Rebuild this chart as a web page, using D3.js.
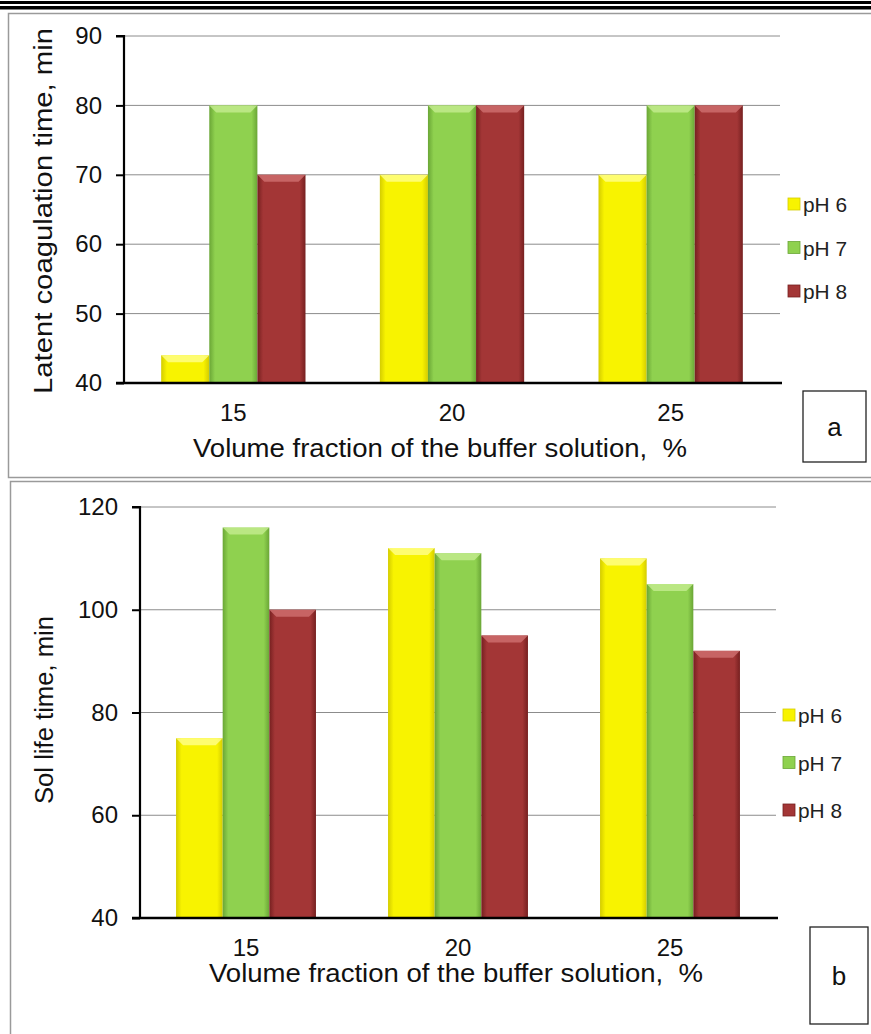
<!DOCTYPE html>
<html>
<head>
<meta charset="utf-8">
<script src="https://cdn.jsdelivr.net/npm/d3@7"></script>
<style>
  html, body { margin: 0; padding: 0; background: #fff; }
  svg { display: block; font-family: "Liberation Sans", Arial, sans-serif; }
</style>
</head>
<body>
<div id="chart"></div>
<script>
const categories = ['15', '20', '25'];
const seriesNames = ['pH 6', 'pH 7', 'pH 8'];

// panel a: latent coagulation time, min
const latentPH6 = [44, 70, 70];
const latentPH7 = [80, 80, 80];
const latentPH8 = [70, 80, 80];
const latentTicks = [40, 50, 60, 70, 80, 90];

// panel b: sol life time, min
const solPH6 = [75, 112, 110];
const solPH7 = [116, 111, 105];
const solPH8 = [100, 95, 92];
const solTicks = [40, 60, 80, 100, 120];

const colors = {
  'pH 6': {base: '#f8f300', light: '#ffff8c', dark: '#d4cc00'},
  'pH 7': {base: '#8fd14f', light: '#c4ec90', dark: '#6aa636'},
  'pH 8': {base: '#a33636', light: '#cf7070', dark: '#762020'}
};

const W = 871, H = 1034;
const FONT = '"Liberation Sans", Arial, sans-serif';
const svg = d3.select('#chart').append('svg')
  .attr('width', W)
  .attr('height', H);

const defs = svg.append('defs');
seriesNames.forEach((s, i) => {
  const c = colors[s];
  const g = defs.append('linearGradient')
    .attr('id', 'bar' + i)
    .attr('x1', 0).attr('x2', 1).attr('y1', 0).attr('y2', 0);
  g.append('stop').attr('offset', '0%').attr('stop-color', c.dark);
  g.append('stop').attr('offset', '12%').attr('stop-color', c.base);
  g.append('stop').attr('offset', '88%').attr('stop-color', c.base);
  g.append('stop').attr('offset', '100%').attr('stop-color', c.dark);
});

// double rule at the top of the page
svg.append('rect').attr('x', 0).attr('y', 1).attr('width', W).attr('height', 3).attr('fill', '#000');
svg.append('rect').attr('x', 0).attr('y', 6).attr('width', W).attr('height', 3.5).attr('fill', '#000');

function drawPanel(p) {
  // outer frame
  svg.append('rect')
    .attr('x', p.frame[0] + 0.5).attr('y', p.frame[1] + 0.5)
    .attr('width', p.frame[2]).attr('height', p.frame[3])
    .attr('fill', 'none').attr('stroke', '#9a9a9a').attr('stroke-width', 1.5);

  const x = d3.scaleBand()
    .domain(categories)
    .range([p.left, p.right])
    .paddingInner(0.34)
    .paddingOuter(0.17);
  const xs = d3.scaleBand()
    .domain(seriesNames)
    .range([0, x.bandwidth()]);
  const y = d3.scaleLinear()
    .domain(d3.extent(p.ticks))
    .range([p.bottom, p.top]);

  const g = svg.append('g');

  // gridlines
  g.append('g').selectAll('line')
    .data(p.ticks.slice(1))
    .join('line')
    .attr('x1', p.left).attr('x2', p.right)
    .attr('y1', d => y(d)).attr('y2', d => y(d))
    .attr('stroke', '#8c8c8c').attr('stroke-width', 1);

  // bars
  const rows = categories.map((c, i) => ({cat: c, vals: p.series.map((s, j) => ({name: seriesNames[j], v: s[i], j}))}));
  const groups = g.selectAll('.grp')
    .data(rows)
    .join('g')
    .attr('transform', d => `translate(${x(d.cat)},0)`);
  const bar = groups.selectAll('g')
    .data(d => d.vals)
    .join('g')
    .attr('transform', d => `translate(${xs(d.name)},0)`);
  bar.append('rect')
    .attr('x', 0).attr('y', d => y(d.v))
    .attr('width', xs.bandwidth())
    .attr('height', d => y(p.ticks[0]) - y(d.v))
    .attr('fill', d => `url(#bar${d.j})`);
  // bevelled top
  bar.append('path')
    .attr('d', d => {
      const w = xs.bandwidth(), t = y(d.v), b = 7;
      return `M0,${t}L${w},${t}L${w - b},${t + b}L${b},${t + b}Z`;
    })
    .attr('fill', d => colors[d.name].light)
    .attr('opacity', 0.8);

  // y axis
  const yAxis = d3.axisLeft(y).tickValues(p.ticks).tickSize(8).tickPadding(14);
  const ya = g.append('g')
    .attr('transform', `translate(${p.left},0)`)
    .call(yAxis);
  ya.select('.domain').attr('stroke', '#000').attr('stroke-width', 2.2)
    .attr('d', `M-8,${p.top}H0V${p.bottom}`);
  ya.selectAll('.tick line').attr('stroke', '#000').attr('stroke-width', 2);
  ya.selectAll('.tick text')
    .attr('font-size', 24).attr('fill', '#111')
    .attr('font-family', FONT);

  // x baseline
  g.append('line')
    .attr('x1', p.left - 8).attr('x2', p.right + 2)
    .attr('y1', p.bottom).attr('y2', p.bottom)
    .attr('stroke', '#000').attr('stroke-width', 2.5);

  // category labels
  g.append('g').selectAll('text')
    .data(categories)
    .join('text')
    .attr('x', d => x(d) + x.bandwidth() / 2)
    .attr('y', p.bottom + 38)
    .attr('text-anchor', 'middle')
    .attr('font-size', 24).attr('fill', '#111')
    .text(d => d);

  // axis titles
  g.append('text')
    .attr('x', p.xTitle[0]).attr('y', p.xTitle[1])
    .attr('text-anchor', 'middle')
    .attr('font-size', 25).attr('fill', '#111')
    .attr('textLength', p.xTitle[2]).attr('lengthAdjust', 'spacingAndGlyphs')
    .attr('xml:space', 'preserve')
    .text('Volume fraction of the buffer solution,  %');
  g.append('text')
    .attr('transform', `translate(${p.yTitle[0]},${p.yTitle[1]}) rotate(-90)`)
    .attr('text-anchor', 'middle')
    .attr('font-size', 26).attr('fill', '#111')
    .attr('textLength', p.yTitle[2]).attr('lengthAdjust', 'spacingAndGlyphs')
    .text(p.yLabel);

  // legend
  const lg = g.append('g').selectAll('g')
    .data(seriesNames)
    .join('g')
    .attr('transform', (d, i) => `translate(${p.legend[0]},${p.legend[1] + i * p.legend[2]})`);
  lg.append('rect')
    .attr('x', 0).attr('y', -6).attr('width', 12).attr('height', 12)
    .attr('fill', d => colors[d].base)
    .attr('stroke', d => colors[d].dark).attr('stroke-width', 0.8);
  lg.append('text')
    .attr('x', 15).attr('y', 8)
    .attr('font-size', 21).attr('fill', '#222')
    .attr('textLength', 44).attr('lengthAdjust', 'spacingAndGlyphs')
    .text(d => d);

  // letter box
  g.append('rect')
    .attr('x', p.box[0]).attr('y', p.box[1])
    .attr('width', p.box[2]).attr('height', p.box[3])
    .attr('fill', '#fff').attr('stroke', '#222').attr('stroke-width', 1.3);
  g.append('text')
    .attr('x', p.box[0] + p.box[2] / 2).attr('y', p.box[1] + p.box[3] / 2 + 9)
    .attr('text-anchor', 'middle')
    .attr('font-size', 26).attr('fill', '#111')
    .text(p.letter);
}

drawPanel({
  frame: [8, 13, 880, 464],
  left: 124, right: 780, top: 36, bottom: 383,
  ticks: latentTicks,
  series: [latentPH6, latentPH7, latentPH8],
  yLabel: 'Latent coagulation time, min',
  xTitle: [440, 457, 494],
  yTitle: [52, 211, 366],
  legend: [788, 204, 43.5],
  box: [803, 391, 63, 71],
  letter: 'a'
});

drawPanel({
  frame: [10, 481, 880, 600],
  left: 140, right: 776, top: 507, bottom: 918,
  ticks: solTicks,
  series: [solPH6, solPH7, solPH8],
  yLabel: 'Sol life time, min',
  xTitle: [456, 982, 494],
  yTitle: [53, 710, 188],
  legend: [783, 715, 47.5],
  box: [810, 927, 58, 97],
  letter: 'b'
});
</script>
</body>
</html>
